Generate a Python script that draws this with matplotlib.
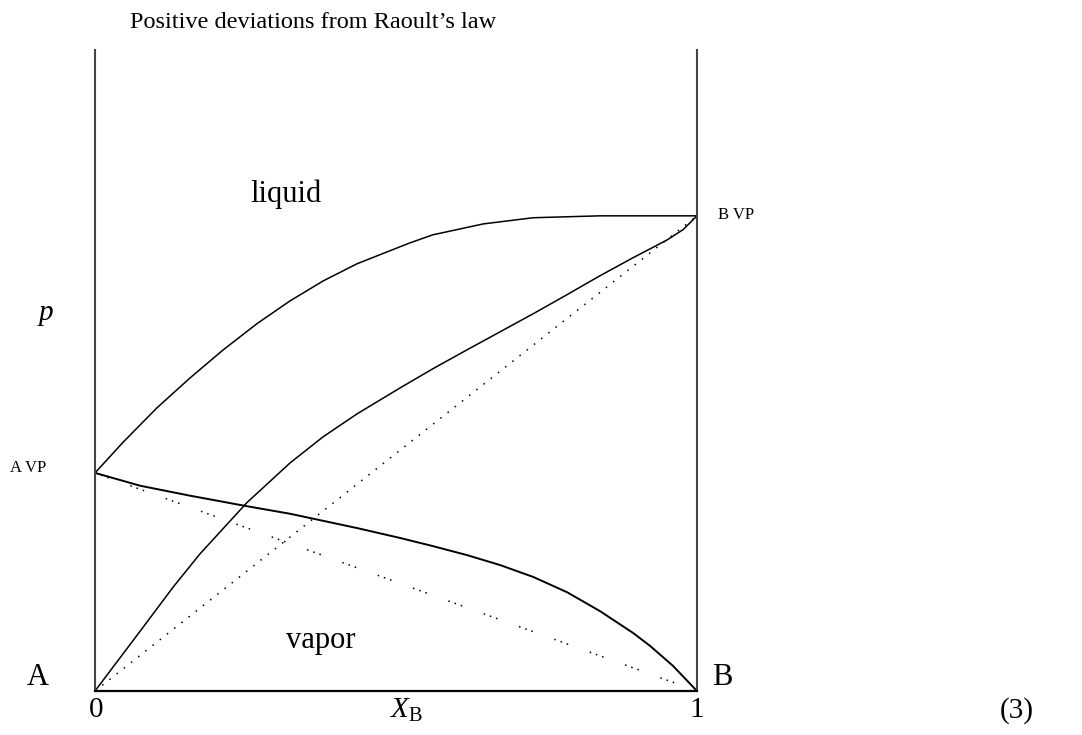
import matplotlib
matplotlib.use("Agg")
import matplotlib.pyplot as plt

plt.rcParams['font.family'] = ['Liberation Serif', 'DejaVu Serif']
plt.rcParams['mathtext.fontset'] = 'custom'
plt.rcParams['mathtext.rm'] = 'Liberation Serif'
plt.rcParams['mathtext.it'] = 'Liberation Serif:italic'

# mole fraction of B and pressures (units of B vapour pressure)
x_total = [0, 0.047, 0.103, 0.158, 0.213, 0.269, 0.324, 0.379, 0.435, 0.523,
           0.561, 0.645, 0.728, 0.839, 1.0]
p_total = [0.459, 0.524, 0.596, 0.659, 0.718, 0.773, 0.821, 0.863, 0.899, 0.943,
           0.960, 0.983, 0.996, 1.0, 1.0]

x_pb = [0, 0.075, 0.130, 0.174, 0.252, 0.324, 0.379, 0.435, 0.507, 0.561,
        0.618, 0.673, 0.728, 0.784, 0.839, 0.894, 0.950, 0.977, 1.0]
p_pb = [0, 0.126, 0.219, 0.288, 0.396, 0.480, 0.535, 0.583, 0.638, 0.678,
        0.718, 0.756, 0.794, 0.834, 0.874, 0.912, 0.949, 0.971, 1.0]

x_pa = [0, 0.075, 0.158, 0.252, 0.324, 0.435, 0.507, 0.561, 0.618, 0.673,
        0.728, 0.784, 0.839, 0.894, 0.922, 0.960, 1.0]
p_pa = [0.459, 0.432, 0.411, 0.389, 0.373, 0.343, 0.322, 0.305, 0.286, 0.265,
        0.240, 0.208, 0.168, 0.122, 0.095, 0.053, 0]

# ideal (Raoult's law) lines
x_ideal = [0, 1]
pa_ideal = [0.459, 0]
pb_ideal = [0, 1.0]

fig = plt.figure(figsize=(10.82, 7.35), dpi=100)
ax = fig.add_axes([95/1082, 44/735, 602/1082, 641/735])
ax.set_xlim(0, 1)
ax.set_ylim(0, 1.349)

ax.plot(x_total, p_total, color='black', lw=1.1)
ax.plot(x_pb, p_pb, color='black', lw=1.1)
ax.plot(x_pa, p_pa, color='black', lw=1.4)
ax.plot(x_ideal, pb_ideal, color='black', lw=1.1, linestyle=(0, (1, 5)))
ax.plot(x_ideal, pa_ideal, color='black', lw=1.1,
        linestyle=(0, (1, 3.3, 1, 3.3, 1, 15)))

ax.spines['top'].set_visible(False)
for s in ['left', 'right']:
    ax.spines[s].set_color('#444444')
    ax.spines[s].set_linewidth(1.5)
ax.spines['bottom'].set_color('black')
ax.spines['bottom'].set_linewidth(1.6)
ax.set_xticks([])
ax.set_yticks([])

fig.text(130/1082, 1 - 28/735, "Positive deviations from Raoult\u2019s law",
         fontsize=17.5, ha='left', va='baseline')
fig.text(250/1082, 1 - 202/735, "liquid", fontsize=22, ha='left', va='baseline')
fig.text(286/1082, 1 - 648/735, "vapor", fontsize=22, ha='left', va='baseline')
fig.text(37/1082, 1 - 320/735, "$p$", fontsize=21, ha='left', va='baseline')
fig.text(10/1082, 1 - 468/735, "A VP", fontsize=12, ha='left', va='center')
fig.text(718/1082, 1 - 215/735, "B VP", fontsize=12, ha='left', va='center')
fig.text(27/1082, 1 - 685/735, "A", fontsize=22, ha='left', va='baseline')
fig.text(712/1082, 1 - 685/735, "B", fontsize=22, ha='left', va='baseline')
fig.text(96/1082, 1 - 697/735, "0", fontsize=21, ha='center', va='top')
fig.text(697/1082, 1 - 697/735, "1", fontsize=21, ha='center', va='top')
fig.text(390/1082, 1 - 697/735, r"$X_{\rm B}$", fontsize=21, ha='left', va='top')
fig.text(1000/1082, 1 - 697/735, "(3)", fontsize=21, ha='left', va='top')

fig.savefig("out.png", dpi=100)
